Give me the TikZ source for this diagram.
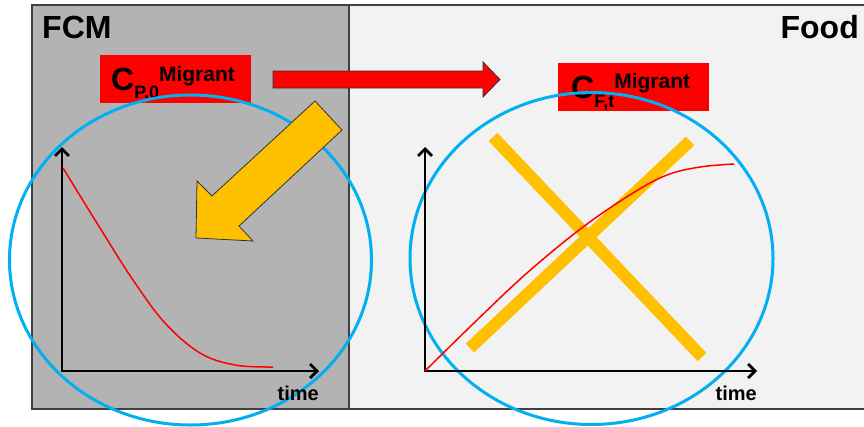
\documentclass[tikz,border=0pt]{standalone}
\usepackage{fontspec}
\setmainfont{Liberation Sans}
\usetikzlibrary{arrows.meta}
\definecolor{fcmgray}{HTML}{B3B3B3}
\definecolor{foodgray}{HTML}{F2F2F2}
\definecolor{framegray}{HTML}{404040}
\definecolor{cyanline}{HTML}{00B0F0}
\definecolor{orangefill}{HTML}{FFC000}
\begin{document}
\begin{tikzpicture}[x=1pt,y=-1pt,
  panel/.style={draw=framegray,line width=1.5pt},
  redbox/.style={fill=red,draw=none,minimum width=151pt,minimum height=48pt,inner sep=0pt},
  ring/.style={draw=cyanline,line width=3pt},
  axis/.style={line width=2.7pt,{Straight Barb[length=7pt,width=14pt]}-{Straight Barb[length=7pt,width=14pt]}},
  curve/.style={red,line width=1.5pt},
  cross/.style={draw=orangefill,line width=12pt},
  blockarrow/.style={draw=black!80,line width=0.8pt,line join=miter},
  lbl/.style={font=\bfseries\fontsize{32}{32}\selectfont,inner sep=0pt},
  conc/.style={font=\bfseries,inner sep=0pt},
  timelbl/.style={font=\bfseries\fontsize{20}{20}\selectfont,inner sep=0pt}]
\useasboundingbox (0,0) rectangle (864,426);
\clip (0,0) rectangle (864,426);
\fill[white] (0,0) rectangle (864,426);
% panels
\draw[panel,fill=foodgray] (349,5) rectangle (880,409);
\draw[panel,fill=fcmgray] (32,5) rectangle (349,409);
\node[lbl,anchor=base west] (fcm) at (42,38) {FCM};
\node[lbl,anchor=base east] (food) at (859,38) {Food};
% concentration boxes
\node[redbox] (cp) at (175.5,79) {};
\node[conc,anchor=base west] (cptext) at (111,90) {\fontsize{32}{32}\selectfont C\raisebox{-8pt}{\fontsize{18}{18}\selectfont P,0}\raisebox{9pt}{\fontsize{21}{21}\selectfont Migrant}};
\node[redbox] (cf) at (633.5,86.5) {};
\node[conc,anchor=base west] (cftext) at (571,98) {\fontsize{32}{32}\selectfont C\raisebox{-9pt}{\fontsize{18}{18}\selectfont F,t}\raisebox{10pt}{\fontsize{21}{21}\selectfont Migrant}};
% red block arrow
\draw[blockarrow,fill=red] (273,71) -- (483,71) -- (483,62) -- (500,79.5) -- (483,97) -- (483,88) -- (273,88) -- cycle;
% ellipses
\draw[ring] (190.5,260) ellipse [x radius=181pt, y radius=165pt];
\draw[ring] (591.5,258.5) ellipse [x radius=181.5pt, y radius=166pt];
% orange block arrow
\draw[blockarrow,fill=orangefill] (315,101) -- (342,130) -- (239,226) -- (253,241) -- (196,238) -- (197,181) -- (212,196) -- cycle;
% cross
\draw[cross] (470,348) -- (690,141);
\draw[cross] (493,137) -- (702,357);
% left plot
\coordinate (o1) at (62,371);
\coordinate (y1) at (62,147);
\coordinate (x1) at (319,371);
\draw[axis] (y1) -- (o1) -- (x1);
\node[timelbl,anchor=base east] (t1) at (319,400) {time};
\draw[curve] plot[smooth,tension=0.6] coordinates {(63,168) (100,228) (133,280) (165,323) (200,353) (235,365) (273,367)};
% right plot
\coordinate (o2) at (425,371);
\coordinate (y2) at (425,147);
\coordinate (x2) at (757,371);
\draw[axis] (y2) -- (o2) -- (x2);
\node[timelbl,anchor=base east] (t2) at (757,400) {time};
\draw[curve] plot[smooth,tension=0.6] coordinates {(425,371) (475,322) (527,273) (583,227) (633,193) (667,175) (700,167) (734,164)};
\end{tikzpicture}
\end{document}
